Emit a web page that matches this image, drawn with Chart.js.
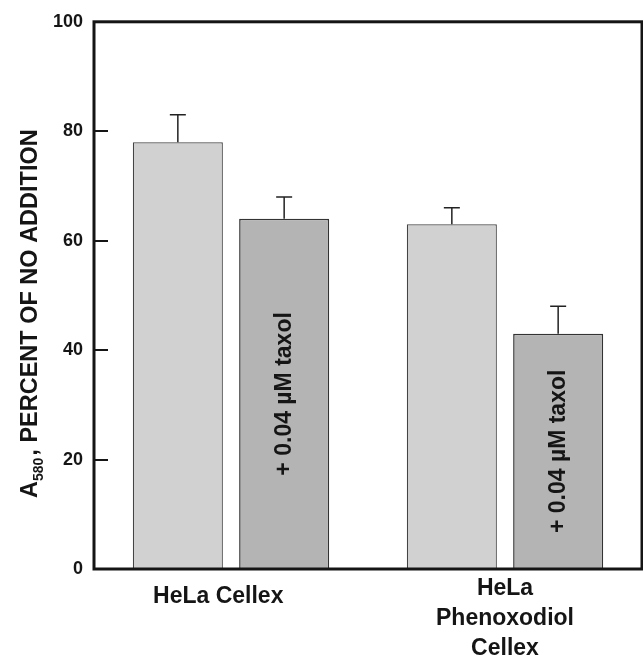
<!DOCTYPE html>
<html>
<head>
<meta charset="utf-8">
<script src="https://cdn.jsdelivr.net/npm/chart.js@4.4.1/dist/chart.umd.min.js"></script>
<style>
  html, body { margin: 0; padding: 0; background: #fff; }
  #wrap { width: 643px; height: 659px; position: relative; }
</style>
</head>
<body>
<div id="wrap"><canvas id="chart"></canvas></div>
<script>
// values
const categories = ['HeLa Cellex', ['HeLa', 'Phenoxodiol', 'Cellex']];
const noTaxol    = [78, 63];
const noTaxolErr = [5, 3];
const withTaxol  = [64, 43];
const withTaxolErr = [4, 5];
const yTicks = [0, 20, 40, 60, 80, 100];
const barNote = '+ 0.04 \u00B5M taxol';

const FAM = "'Liberation Sans', Arial, Helvetica, sans-serif";
const INK = '#151515';

// error bars (upward only)
const errorBars = {
  id: 'errorBars',
  afterDatasetsDraw(chart) {
    const { ctx, scales: { y } } = chart;
    const errs = [noTaxolErr, withTaxolErr];
    ctx.save();
    ctx.strokeStyle = '#222'; ctx.lineWidth = 1.5;
    chart.data.datasets.forEach((ds, di) => {
      chart.getDatasetMeta(di).data.forEach((bar, i) => {
        const top = y.getPixelForValue(ds.data[i] + errs[di][i]);
        ctx.beginPath();
        ctx.moveTo(bar.x, bar.y); ctx.lineTo(bar.x, top);
        ctx.moveTo(bar.x - 8, top); ctx.lineTo(bar.x + 8, top);
        ctx.stroke();
      });
    });
    ctx.restore();
  }
};

// rotated note inside the taxol bars
const barLabels = {
  id: 'barLabels',
  afterDatasetsDraw(chart) {
    const { ctx } = chart;
    ctx.save();
    ctx.font = `bold 23px ${FAM}`; ctx.fillStyle = INK;
    ctx.textAlign = 'center'; ctx.textBaseline = 'middle';
    chart.getDatasetMeta(1).data.forEach(bar => {
      ctx.save();
      ctx.translate(bar.x + 1, (bar.y + bar.base) / 2);
      ctx.rotate(-Math.PI / 2);
      ctx.fillText(barNote, 0, 0);
      ctx.restore();
    });
    ctx.restore();
  }
};

// frame, inward tick marks, y title with subscript
const frame = {
  id: 'frame',
  afterDraw(chart) {
    const { ctx, chartArea: a, scales: { y } } = chart;
    ctx.save();
    ctx.strokeStyle = INK; ctx.lineWidth = 3;
    ctx.strokeRect(a.left, a.top, a.right - a.left, a.bottom - a.top);
    ctx.lineWidth = 2;
    yTicks.slice(1, -1).forEach(v => {
      const py = Math.round(y.getPixelForValue(v));
      ctx.beginPath(); ctx.moveTo(a.left, py); ctx.lineTo(a.left + 14, py); ctx.stroke();
    });
    // axis title
    ctx.translate(37, 498);
    ctx.rotate(-Math.PI / 2);
    ctx.fillStyle = INK; ctx.textAlign = 'left'; ctx.textBaseline = 'alphabetic';
    ctx.font = `bold 23.5px ${FAM}`;
    ctx.fillText('A', 0, 0);
    let x = ctx.measureText('A').width;
    ctx.font = `bold 14px ${FAM}`;
    ctx.fillText('580', x, 6);
    x += ctx.measureText('580').width + 2;
    ctx.font = `bold 23.5px ${FAM}`;
    ctx.fillText(', PERCENT OF NO ADDITION', x, 0);
    ctx.restore();
  }
};

new Chart(document.getElementById('chart'), {
  type: 'bar',
  data: {
    labels: categories,
    datasets: [
      { label: 'no addition', data: noTaxol, backgroundColor: '#d1d1d1', borderColor: '#444', borderWidth: 1.2 },
      { label: 'taxol', data: withTaxol, backgroundColor: '#b4b4b4', borderColor: '#333', borderWidth: 1.5 }
    ]
  },
  options: {
    responsive: true, maintainAspectRatio: false, animation: false,
    layout: { padding: { top: 21, right: 1, left: 0, bottom: 0 } },
    datasets: { bar: { categoryPercentage: 0.776, barPercentage: 0.847 } },
    plugins: { legend: { display: false }, tooltip: { enabled: false } },
    scales: {
      x: {
        grid: { display: false, drawTicks: false }, border: { display: false },
        ticks: {
          color: INK, padding: 5, maxRotation: 0,
          // first label sits a little lower and left of its category centre
          callback(v, i) { return i === 0 ? this.getLabelForValue(v) + '\u00A0\u00A0\u00A0\u00A0' : this.getLabelForValue(v); },
          font: (c) => ({ family: FAM, size: 23, weight: 'bold', lineHeight: c.index === 0 ? 2.0 : 1.3 })
        },
        afterFit(s) { s.height = 90; }
      },
      y: {
        min: 0, max: 100,
        grid: { display: false, drawTicks: false }, border: { display: false },
        ticks: { stepSize: 20, color: INK, padding: 11, font: { family: FAM, size: 18, weight: 'bold' } },
        afterFit(s) { s.width = 94; }
      }
    }
  },
  plugins: [errorBars, barLabels, frame]
});
</script>
</body>
</html>
